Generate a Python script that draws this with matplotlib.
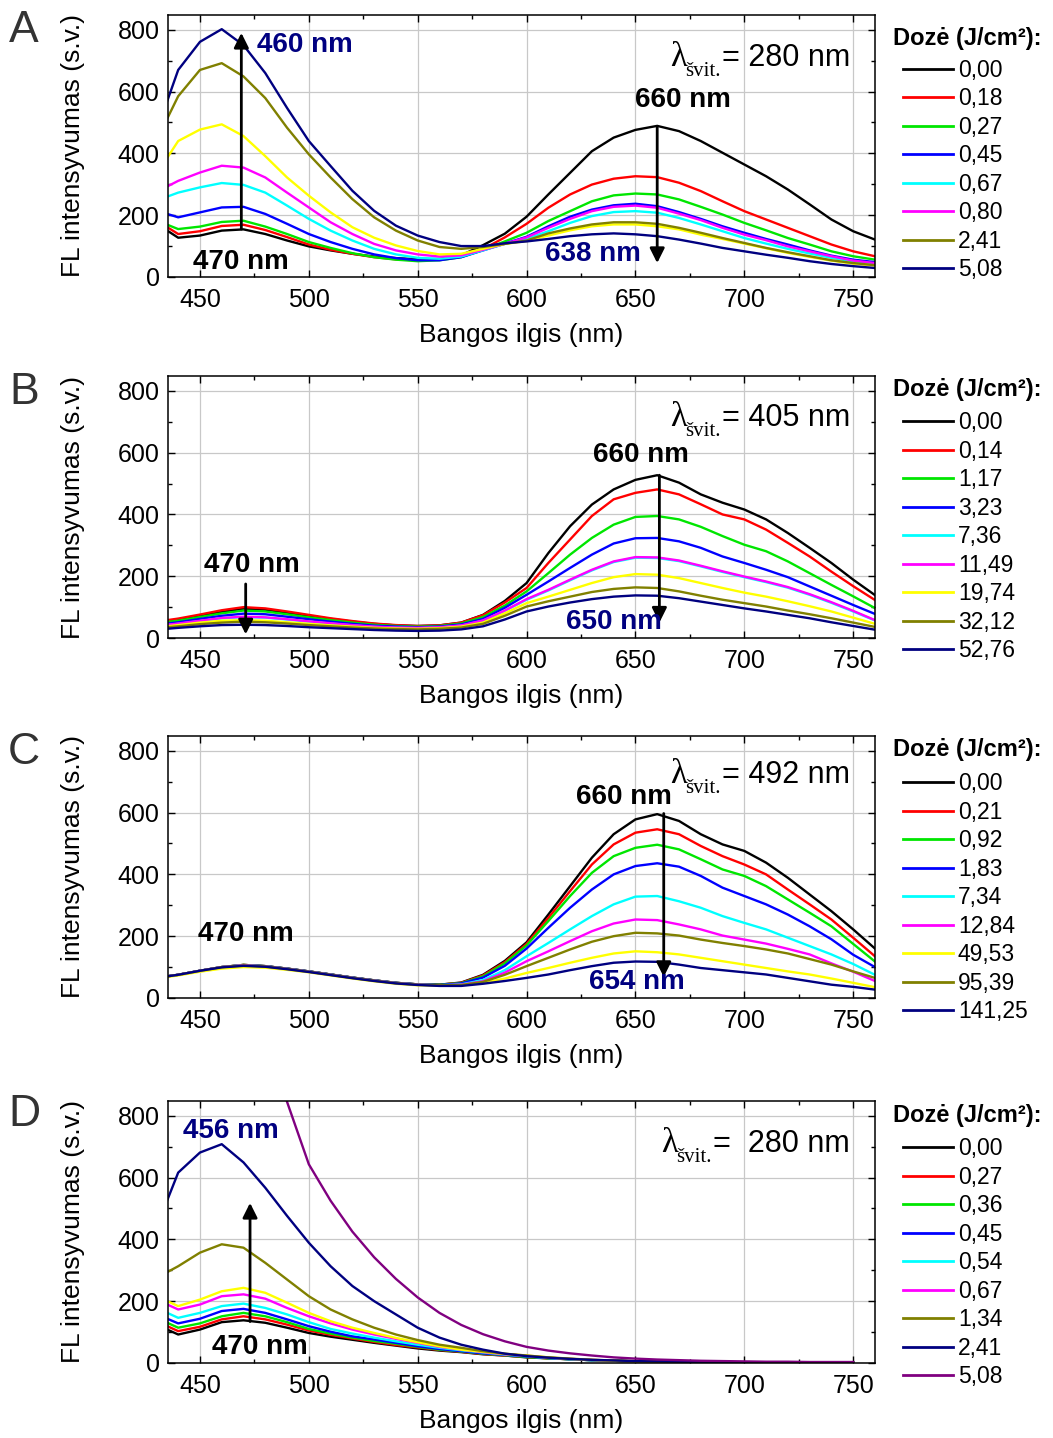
import numpy as np
import matplotlib
matplotlib.use('Agg')
import matplotlib.pyplot as plt
from matplotlib.ticker import MultipleLocator
from matplotlib.lines import Line2D

plt.rcParams['font.family'] = ['Liberation Sans', 'DejaVu Sans']

nan = np.nan

# wavelength grid (nm)
wl = [435, 440, 450, 460, 470, 480, 490, 500, 510, 520, 530, 540, 550, 560, 570, 580, 590, 600,
      610, 620, 630, 640, 650, 660, 670, 680, 690, 700, 710, 720, 730, 740, 750, 760]
wl_d = wl[:-1]  # panel D stops at 750 nm

# panel A, excitation 280 nm
a_black = [150, 127, 134, 150, 154, 139, 118, 99, 86, 75, 66, 61, 57, 58, 70, 103, 140, 195,
           267, 337, 407, 451, 476, 489, 472, 440, 402, 364, 326, 283, 235, 186, 148, 121]
a_red = [161, 139, 148, 165, 169, 152, 129, 105, 88, 75, 64, 57, 54, 56, 66, 90, 128, 172,
         224, 267, 299, 318, 326, 323, 305, 278, 245, 213, 186, 159, 132, 105, 83, 67]
a_green = [169, 155, 163, 178, 182, 163, 139, 113, 94, 77, 64, 56, 51, 54, 64, 88, 115, 143,
           181, 213, 245, 264, 270, 267, 251, 227, 202, 175, 151, 126, 105, 83, 67, 56]
a_blue = [204, 193, 209, 225, 227, 204, 172, 139, 113, 91, 73, 61, 54, 54, 64, 86, 108, 130,
          164, 195, 218, 232, 237, 229, 210, 188, 164, 143, 123, 105, 86, 69, 56, 48]
a_cyan = [260, 273, 290, 304, 298, 273, 231, 188, 150, 118, 91, 73, 62, 59, 66, 86, 107, 123,
          148, 175, 197, 210, 213, 208, 191, 170, 148, 126, 108, 91, 76, 62, 50, 42]
a_magenta = [293, 311, 338, 360, 354, 322, 273, 225, 177, 139, 107, 86, 73, 66, 70, 88, 107, 128,
             159, 188, 213, 227, 231, 224, 205, 184, 159, 137, 119, 99, 83, 67, 53, 45]
a_yellow = [386, 440, 477, 494, 456, 391, 322, 263, 209, 161, 127, 102, 84, 73, 75, 91, 107, 116,
            134, 151, 164, 170, 170, 164, 154, 137, 123, 108, 93, 78, 65, 53, 43, 37]
a_olive = [513, 585, 670, 692, 649, 579, 483, 397, 322, 252, 193, 150, 118, 97, 91, 97, 107, 118,
           141, 157, 170, 177, 177, 172, 159, 143, 126, 110, 94, 80, 67, 54, 45, 38]
a_navy = [570, 670, 761, 802, 750, 660, 547, 440, 359, 279, 214, 166, 134, 113, 100, 100, 109, 115,
          123, 132, 138, 141, 138, 132, 121, 108, 94, 83, 72, 62, 51, 42, 35, 29]
a_doses = ['0,00', '0,18', '0,27', '0,45', '0,67', '0,80', None, '2,41', '5,08']

# panel B, excitation 405 nm
b_black = [55, 60, 72, 85, 95, 92, 82, 72, 62, 53, 46, 41, 39, 41, 50, 75, 120, 178,
           275, 362, 432, 481, 512, 527, 503, 465, 438, 416, 384, 340, 292, 243, 189, 139]
b_red = [58, 63, 76, 90, 100, 96, 86, 75, 64, 55, 47, 42, 39, 41, 50, 74, 115, 162,
         243, 319, 395, 449, 470, 481, 465, 433, 400, 384, 351, 308, 264, 215, 168, 123]
b_green = [52, 56, 68, 80, 89, 86, 77, 67, 58, 50, 43, 39, 37, 39, 47, 68, 105, 151,
           210, 270, 324, 367, 392, 395, 384, 360, 330, 302, 281, 248, 210, 172, 135, 97]
b_blue = [47, 51, 62, 72, 79, 77, 69, 61, 53, 46, 40, 37, 35, 37, 44, 62, 98, 140,
          183, 227, 270, 306, 323, 324, 313, 292, 264, 243, 221, 197, 167, 137, 107, 78]
b_cyan = [42, 46, 55, 64, 68, 66, 60, 53, 47, 41, 36, 33, 32, 34, 40, 56, 88, 124,
          154, 187, 219, 246, 260, 259, 249, 232, 214, 197, 181, 163, 140, 114, 86, 57]
b_magenta = [43, 47, 56, 65, 69, 67, 61, 54, 48, 42, 37, 34, 33, 35, 41, 57, 89, 126,
             156, 189, 221, 248, 262, 261, 251, 234, 216, 199, 183, 165, 142, 116, 88, 58]
b_yellow = [38, 42, 50, 56, 58, 56, 51, 46, 41, 37, 33, 31, 30, 32, 37, 50, 80, 113,
            134, 156, 178, 197, 207, 205, 194, 178, 162, 147, 134, 119, 103, 86, 66, 46]
b_olive = [35, 38, 45, 50, 53, 51, 47, 42, 38, 34, 31, 29, 28, 30, 34, 46, 72, 102,
           119, 134, 149, 159, 164, 162, 151, 137, 124, 113, 102, 89, 77, 64, 50, 36]
b_navy = [30, 33, 38, 42, 43, 42, 39, 35, 32, 29, 26, 24, 23, 24, 28, 38, 60, 86,
          102, 115, 126, 134, 138, 137, 129, 118, 107, 96, 86, 75, 64, 51, 39, 27]
b_doses = ['0,00', '0,14', '1,17', '3,23', '7,36', '11,49', '19,74', '32,12', '52,76']

# panel C, excitation 492 nm
c_black = [70, 75, 88, 100, 107, 103, 95, 86, 76, 66, 57, 49, 44, 43, 50, 75, 120, 180,
           270, 362, 454, 530, 578, 595, 573, 530, 497, 476, 438, 389, 335, 281, 222, 160]
c_red = [70, 75, 88, 100, 107, 103, 95, 86, 76, 66, 57, 49, 44, 43, 49, 73, 116, 175,
         259, 346, 432, 497, 535, 546, 530, 492, 459, 432, 400, 351, 303, 254, 195, 135]
c_green = [70, 75, 88, 100, 107, 103, 95, 86, 76, 66, 57, 49, 44, 43, 48, 70, 112, 170,
           249, 330, 405, 459, 486, 496, 481, 449, 416, 395, 362, 319, 276, 232, 175, 118]
c_blue = [70, 75, 88, 100, 106, 103, 95, 86, 76, 66, 57, 49, 44, 42, 47, 66, 104, 160,
          227, 292, 351, 400, 427, 436, 425, 395, 357, 330, 303, 270, 232, 190, 140, 100]
c_cyan = [70, 75, 88, 100, 106, 102, 94, 85, 75, 65, 56, 48, 43, 41, 44, 58, 90, 135,
          178, 222, 265, 303, 328, 330, 313, 292, 265, 243, 222, 195, 168, 141, 110, 75]
c_magenta = [70, 75, 88, 100, 106, 102, 94, 85, 75, 65, 56, 48, 43, 41, 43, 54, 82, 119,
             151, 184, 216, 241, 254, 252, 238, 222, 202, 189, 176, 159, 141, 112, 85, 55]
c_yellow = [68, 73, 85, 95, 100, 98, 91, 83, 73, 63, 54, 46, 41, 40, 41, 49, 63, 81,
            97, 114, 130, 144, 151, 148, 141, 130, 119, 108, 97, 86, 76, 63, 49, 35]
c_olive = [70, 75, 88, 100, 105, 102, 94, 85, 75, 65, 56, 48, 43, 41, 42, 52, 75, 103,
           130, 157, 182, 200, 211, 209, 202, 189, 178, 168, 157, 144, 126, 108, 86, 65]
c_navy = [70, 75, 88, 99, 104, 101, 93, 84, 74, 64, 55, 47, 42, 39, 39, 46, 55, 65,
          76, 90, 103, 114, 118, 117, 108, 97, 90, 83, 76, 65, 54, 43, 36, 27]
c_doses = ['0,00', '0,21', '0,92', '1,83', '7,34', '12,84', '49,53', '95,39', '141,25']

# panel D, excitation 280 nm
d_black = [108, 92, 108, 132, 138, 130, 114, 97, 85, 75, 65, 56, 47, 40, 35, 28, 24, 18,
           15, 12, 9, 7, 5, 4, 3, 3, 2, 2, 2, 1, 1, 1, 1]
d_red = [119, 103, 117, 141, 151, 141, 124, 105, 91, 79, 68, 58, 50, 42, 36, 29, 24, 19,
         15, 12, 9, 7, 5, 4, 3, 3, 2, 2, 2, 1, 1, 1, 1]
d_green = [130, 114, 128, 151, 162, 151, 132, 110, 95, 82, 71, 62, 52, 43, 37, 30, 25, 19,
           15, 12, 9, 7, 5, 4, 3, 3, 2, 2, 2, 1, 1, 1, 1]
d_blue = [143, 128, 143, 168, 175, 162, 141, 119, 101, 86, 76, 65, 54, 45, 38, 31, 26, 21,
          16, 12, 9, 7, 5, 4, 3, 3, 2, 2, 2, 1, 1, 1, 1]
d_cyan = [162, 146, 162, 184, 192, 178, 157, 132, 110, 95, 82, 70, 59, 49, 41, 34, 27, 22,
          16, 12, 9, 7, 5, 4, 3, 3, 2, 2, 2, 1, 1, 1, 1]
d_magenta = [189, 173, 189, 216, 222, 208, 178, 151, 128, 108, 92, 78, 65, 52, 43, 35, 28, 23,
             17, 13, 10, 7, 5, 4, 3, 3, 2, 2, 2, 1, 1, 1, 1]
d_yellow = [200, 184, 205, 232, 243, 227, 195, 162, 135, 114, 97, 81, 67, 54, 43, 36, 29, 24,
            18, 13, 10, 7, 5, 4, 3, 3, 2, 2, 2, 1, 1, 1, 1]
d_olive = [294, 313, 357, 384, 373, 324, 270, 216, 173, 141, 114, 92, 74, 59, 49, 38, 30, 24,
           18, 14, 10, 8, 6, 5, 4, 3, 3, 2, 2, 2, 1, 1, 1]
d_navy = [527, 616, 681, 708, 649, 567, 476, 389, 313, 249, 200, 157, 114, 82, 59, 43, 30, 22,
          17, 13, 10, 8, 6, 5, 4, 3, 3, 2, 2, 2, 1, 1, 1]
d_purple = [nan, nan, nan, nan, 1480, 1130, 845, 643, 525, 425, 342, 272, 212, 162, 123, 93, 70, 52,
            40, 31, 24, 18, 14, 11, 9, 7, 6, 5, 4, 4, 3, 3, 3]
d_doses = ['0,00', '0,27', '0,36', '0,45', '0,54', '0,67', None, '1,34', '2,41', '5,08']

col9 = ['#000000', '#ff0000', '#00e600', '#0000ff', '#00ffff', '#ff00ff', '#ffff00', '#808000', '#000080']
col_d = col9 + ['#800080']

panels = [
    dict(x=wl, ys=[a_black, a_red, a_green, a_blue, a_cyan, a_magenta, a_yellow, a_olive, a_navy],
         cols=col9, doses=a_doses, letter='A', exc='= 280 nm', lam_x=0.7836, lam_y=0.805,
         title_y=0.912, leg_y=0.832,
         arrows=[(469, 155, 469, 790), (660, 487, 660, 45)],
         notes=[('460 nm', 498, 751, '#000080'), ('470 nm', 469, 49, 'k'),
                ('660 nm', 672, 573, 'k'), ('638 nm', 630.5, 74, '#000080')]),
    dict(x=wl, ys=[b_black, b_red, b_green, b_blue, b_cyan, b_magenta, b_yellow, b_olive, b_navy],
         cols=col9, doses=b_doses, letter='B', exc='= 405 nm', lam_x=0.7836, lam_y=0.808,
         title_y=0.948, leg_y=0.866,
         arrows=[(471, 175, 471, 12), (661, 527, 661, 50)],
         notes=[('470 nm', 474, 236, 'k'), ('660 nm', 652.6, 592, 'k'), ('650 nm', 640, 52, '#000080')]),
    dict(x=wl, ys=[c_black, c_red, c_green, c_blue, c_cyan, c_magenta, c_yellow, c_olive, c_navy],
         cols=col9, doses=c_doses, letter='C', exc='= 492 nm', lam_x=0.7836, lam_y=0.82,
         title_y=0.948, leg_y=0.862,
         arrows=[(663, 597, 663, 68)],
         notes=[('470 nm', 471, 207, 'k'), ('660 nm', 644.8, 650, 'k'), ('654 nm', 650.8, 52, '#000080')]),
    dict(x=wl_d, ys=[d_black, d_red, d_green, d_blue, d_cyan, d_magenta, d_yellow, d_olive, d_navy, d_purple],
         cols=col_d, doses=d_doses, letter='D', exc='=  280 nm', lam_x=0.771, lam_y=0.805,
         title_y=0.944, leg_y=0.862,
         arrows=[(473, 134, 473, 518)],
         notes=[('456 nm', 464, 751, '#000080'), ('470 nm', 477.6, 52, 'k')]),
]

fig = plt.figure(figsize=(10.53, 14.38), dpi=100)
bottoms = [0.8074, 0.5563, 0.3060, 0.0522]
letter_y = [30, 392, 752, 1115]

for p, b, ly in zip(panels, bottoms, letter_y):
    ax = fig.add_axes([0.1595, b, 0.6714, 0.1822])
    handles, labels = [], []
    for y, c, d in zip(p['ys'], p['cols'], p['doses']):
        ax.plot(p['x'], y, color=c, lw=1.7)
        if d is not None:
            handles.append(Line2D([], [], color=c, lw=2))
            labels.append(d)

    ax.set_xlim(435.3, 760)
    ax.set_ylim(0, 848)
    ax.xaxis.set_major_locator(MultipleLocator(50))
    ax.xaxis.set_minor_locator(MultipleLocator(25))
    ax.yaxis.set_major_locator(MultipleLocator(200))
    ax.yaxis.set_minor_locator(MultipleLocator(100))
    ax.grid(True, which='major', color='#c8c8c8', lw=0.9)
    ax.set_axisbelow(True)
    ax.tick_params(which='both', direction='in', top=True, right=True, width=1)
    ax.tick_params(which='major', length=5, labelsize=18)
    ax.tick_params(which='minor', length=3)
    ax.tick_params(axis='x', pad=8)
    ax.tick_params(axis='y', pad=6)
    for s in ax.spines.values():
        s.set_linewidth(1.1)

    ax.set_xlabel('Bangos ilgis (nm)', fontsize=19)
    ax.set_ylabel('FL intensyvumas (s.v.)', fontsize=19)
    ax.xaxis.set_label_coords(0.5, -0.175)
    ax.yaxis.set_label_coords(-0.118, 0.5)

    # arrows and peak labels
    for x0, y0, x1, y1 in p['arrows']:
        ax.annotate('', xy=(x1, y1), xytext=(x0, y0),
                    arrowprops=dict(arrowstyle='-|>', color='k', lw=2, mutation_scale=22,
                                    shrinkA=0, shrinkB=0))
    for t, tx, ty, c in p['notes']:
        ax.text(tx, ty, t, color=c, fontsize=20, fontweight='bold', ha='center', va='center')

    # excitation wavelength: serif lambda with subscript, then sans value
    ax.annotate('švit.', xy=(p['lam_x'], p['lam_y']), xycoords='axes fraction',
                xytext=(-1, -7), textcoords='offset points', ha='right', va='baseline',
                fontsize=15, family='Liberation Serif')
    ax.annotate('λ', xy=(p['lam_x'], p['lam_y']), xycoords='axes fraction',
                xytext=(-25, 0), textcoords='offset points', ha='right', va='baseline',
                fontsize=25, family='Liberation Serif')
    ax.text(p['lam_x'], p['lam_y'], p['exc'], transform=ax.transAxes,
            ha='left', va='baseline', fontsize=22)

    # legend
    ax.text(1.0255, p['title_y'], 'Dozė (J/cm²):', transform=ax.transAxes,
            ha='left', va='center', fontsize=17, fontweight='bold')
    ax.legend(handles, labels, loc='upper left', bbox_to_anchor=(1.0396, p['leg_y']),
              frameon=False, fontsize=16.5, borderpad=0, borderaxespad=0,
              handlelength=2.2, handletextpad=0.2, labelspacing=0.24)

    fig.text(24 / 1053, 1 - ly / 1438, p['letter'], fontsize=32, color='#333333',
             ha='center', va='center')

fig.savefig('out.png', dpi=100)
